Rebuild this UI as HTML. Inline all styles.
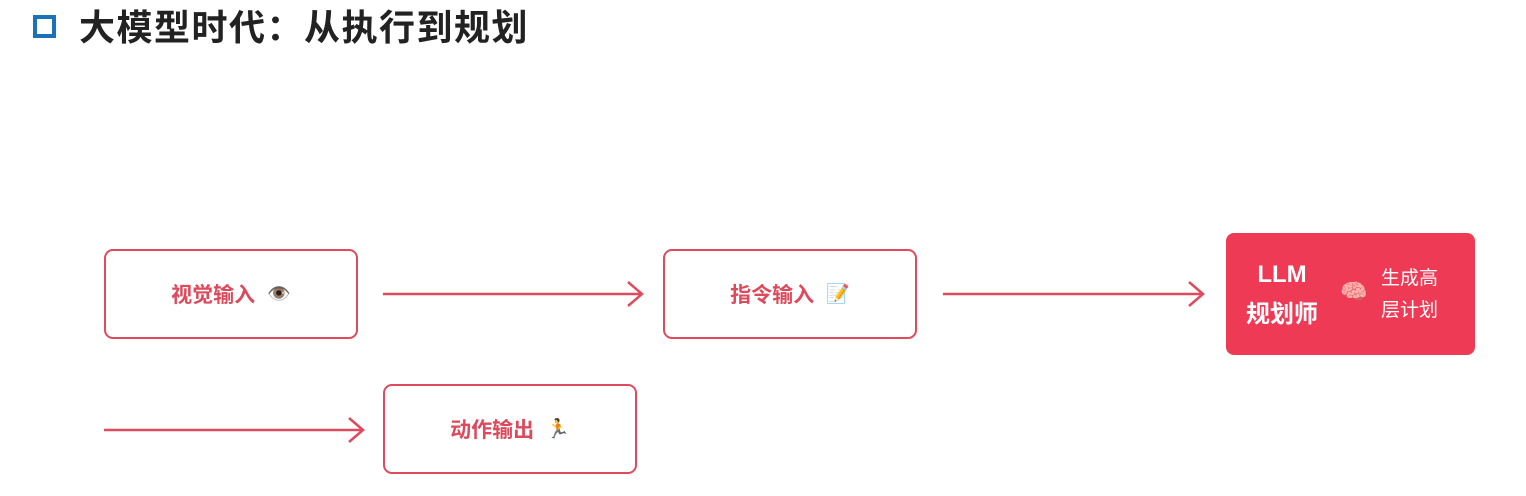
<!DOCTYPE html>
<html><head><meta charset="utf-8"><style>
body{margin:0;width:1526px;height:496px;background:#fff;position:relative;overflow:hidden;font-family:"Liberation Sans","Noto Sans CJK SC",sans-serif}
.sq{position:absolute;left:33px;top:15px;width:15px;height:15px;border:4px solid #1a72b8}
.t{position:absolute;left:79px;top:5px;font-size:36px;font-weight:bold;color:#222;line-height:46px;letter-spacing:1.5px}
.b{position:absolute;width:250px;height:86px;border:2px solid #e04a5d;border-radius:9px;box-sizing:border-box;display:flex;align-items:center;justify-content:center;color:#dc4a5c;font-size:21px;font-weight:bold;gap:12px}
.e{font-size:19px}
.llm{position:absolute;left:1226px;top:233px;width:249px;height:122px;background:#ef3a55;border-radius:8px;color:#fff}
</style></head><body>
<div class="sq"></div>
<div class="t">大模型时代：从执行到规划</div>
<div class="b" style="left:104px;top:249px;width:254px;height:90px">视觉输入 <span class="e">👁️</span></div>
<div class="b" style="left:663px;top:249px;width:254px;height:90px">指令输入 <span class="e">📝</span></div>
<div class="b" style="left:383px;top:384px;width:254px;height:90px">动作输出 <span class="e">🏃</span></div>
<div class="llm">
<div style="position:absolute;left:18px;top:22px;width:76px;text-align:center;font-size:24px;font-weight:bold;line-height:40px">LLM<br>规划师</div>
<div style="position:absolute;left:114px;top:46px;font-size:22px">🧠</div>
<div style="position:absolute;left:155px;top:30px;font-size:19px;line-height:32px">生成高<br>层计划</div>
</div>
<svg width="1526" height="496" style="position:absolute;left:0;top:0" fill="none" stroke="#e04a5d" stroke-width="2.5">
<path d="M383 294H641M628 282L642 294L628 306"/>
<path d="M943 294H1202M1189 282L1203 294L1189 306"/>
<path d="M104 430H362M349 418L363 430L349 442"/>
</svg>
</body></html>
